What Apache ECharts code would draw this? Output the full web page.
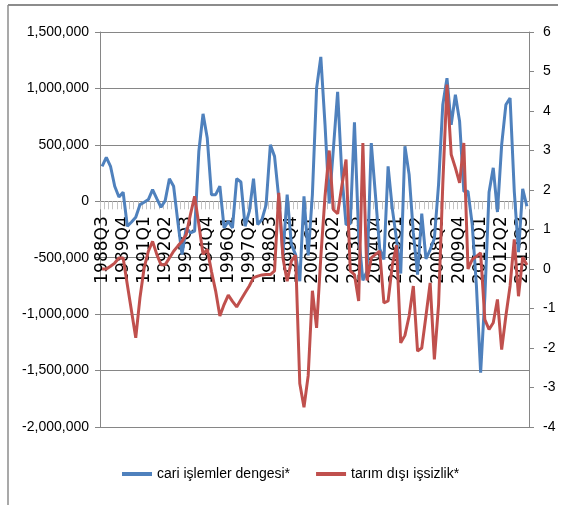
<!DOCTYPE html>
<html>
<head>
<meta charset="utf-8">
<script src="https://cdn.jsdelivr.net/npm/echarts@6/dist/echarts.min.js"></script>
<style>
  html, body { margin: 0; padding: 0; background: #fff; }
  #chart { width: 562px; height: 505px; }
</style>
</head>
<body>
<div id="chart"></div>
<script>
// quarters from 1988Q3 to 2013Q4
const firstYear = 1988;
const firstQuarter = 3;
const quarterCount = 102;

const currentAccount = [
  310000, 389000, 310000, 133000, 38000, 80000, -221000, -183000, -142000, -30000,
  -9000, 15000, 103000, 24000, -53000, 6000, 200000, 133000, -180000, -472000,
  -236000, -280000, -265000, 442000, 775000, 560000, 59000, 59000, 133000, -236000,
  -177000, -236000, 200000, 171000, -221000, -90000, 200000, -206000, -162000, -30000,
  500000, 398000, 30000, -472000, 59000, -383000, -472000, -708000, 44000, -480000,
  60000, 1003000, 1280000, 680000, -20000, 470000, 970000, 236000, -206000, -200000,
  700000, -300000, -700000, -620000, 516000, 50000, -420000, -515000, 310000, -65000,
  -340000, -640000, 487000, 236000, -280000, -650000, -110000, -510000, -430000, -330000,
  150000, 855000, 1091000, 678000, 944000, 708000, 88000, 88000, -206000, -750000,
  -1519000, -850000, 80000, 296000, -95000, 500000, 855000, 915000, 88000, -450000,
  110000, -44000
];

const nonFarmUnemployment = [
  0.0, 0.0, 0.07, 0.15, 0.28, 0.28, -0.4, -1.07, -1.74, -0.73,
  0.03, 0.45, 0.7, 0.37, 0.11, 0.11, 0.28, 0.45, 0.58, 0.7,
  0.87, 1.38, 1.84, 1.13, 0.37, 0.5, -0.06, -0.56, -1.19, -0.9,
  -0.66, -0.82, -0.96, -0.78, -0.6, -0.43, -0.22, -0.18, -0.15, -0.14,
  -0.14, -0.05, 1.93, 0.28, -0.31, 0.2, 0.35, -2.9, -3.5, -2.7,
  -0.55, -1.49, 0.3, 1.84, 3.0, 1.5, 1.4, 2.1, 2.77, -0.05,
  -0.14, -0.81, 3.19, -0.29, 0.28, 0.37, 0.45, -0.86, -0.81, 0.1,
  0.6, -1.87, -1.68, -1.19, -0.43, -2.08, -2.0, -1.19, -0.35, -2.29,
  -0.9, 2.14, 4.67, 2.9, 2.56, 2.18, 3.19, 0.0, 0.24, 0.32,
  0.41, -1.28, -1.53, -1.36, -0.77, -2.04, -1.19, -0.43, 0.75, -0.69,
  0.3, 0.1
];

const seriesNames = ["cari işlemler dengesi*", "tarım dışı işsizlik*"];
const leftTicks = { min: -2000000, max: 1500000, step: 500000 };
const rightTicks = { min: -4, max: 6, step: 1 };

const quarters = [];
for (let k = 0; k < quarterCount; k++) {
  const q = firstQuarter - 1 + k;
  quarters.push(firstYear + Math.floor(q / 4) + "Q" + ((q % 4) + 1));
}

const sans = '"Liberation Sans", Arial, sans-serif';
const gridGray = "#868686";

const gridTop = 32;
const gridHeight = 395;
// the category axis sits on the left axis' zero line
const zeroOffset = -gridHeight * (0 - leftTicks.min) / (leftTicks.max - leftTicks.min);

const chart = echarts.init(document.getElementById("chart"), null, { renderer: "canvas" });

chart.setOption({
  animation: false,
  backgroundColor: "#fff",
  color: ["#4F81BD", "#C0504D"],
  grid: { left: 100, right: 33, top: gridTop, height: gridHeight, containLabel: false },
  legend: {
    left: 122,
    top: 467,
    padding: 0,
    itemWidth: 30,
    itemHeight: 4,
    itemGap: 26,
    icon: "rect",
    textStyle: { fontFamily: sans, fontSize: 14, color: "#000" },
    data: seriesNames
  },
  xAxis: {
    type: "category",
    data: quarters,
    position: "bottom",
    offset: zeroOffset,
    boundaryGap: true,
    axisLine: { onZero: false, lineStyle: { color: gridGray, width: 1 } },
    axisTick: { show: true, interval: 0, length: 8, lineStyle: { color: "#c4c4c4" } },
    axisLabel: {
      interval: 4,
      rotate: 90,
      margin: 15,
      fontFamily: '"DejaVu Sans", sans-serif',
      fontSize: 17,
      color: "#000"
    },
    splitLine: { show: false }
  },
  yAxis: [
    {
      type: "value",
      min: leftTicks.min,
      max: leftTicks.max,
      interval: leftTicks.step,
      axisLine: { show: true, onZero: false, lineStyle: { color: gridGray } },
      axisTick: { show: true, length: 5, lineStyle: { color: gridGray } },
      axisLabel: {
        margin: 11,
        fontFamily: sans,
        fontSize: 14,
        color: "#000",
        formatter: (v) => v.toLocaleString("en-US")
      },
      splitLine: { show: true, lineStyle: { color: gridGray, width: 1 } }
    },
    {
      type: "value",
      position: "right",
      min: rightTicks.min,
      max: rightTicks.max,
      interval: rightTicks.step,
      axisLine: { show: true, onZero: false, lineStyle: { color: gridGray } },
      axisTick: { show: true, length: 5, lineStyle: { color: gridGray } },
      axisLabel: { margin: 14, fontFamily: sans, fontSize: 14, color: "#000" },
      splitLine: { show: false }
    }
  ],
  series: [
    {
      name: seriesNames[0],
      type: "line",
      yAxisIndex: 0,
      data: currentAccount,
      showSymbol: false,
      lineStyle: { width: 3 }
    },
    {
      name: seriesNames[1],
      type: "line",
      yAxisIndex: 1,
      data: nonFarmUnemployment,
      showSymbol: false,
      lineStyle: { width: 3 }
    }
  ],
  graphic: [
    { type: "line", shape: { x1: 8, y1: 5, x2: 558, y2: 5 }, style: { stroke: "#8c8c8c", lineWidth: 2 } },
    { type: "line", shape: { x1: 8, y1: 5, x2: 8, y2: 505 }, style: { stroke: "#8c8c8c", lineWidth: 1.5 } }
  ]
});
</script>
</body>
</html>
